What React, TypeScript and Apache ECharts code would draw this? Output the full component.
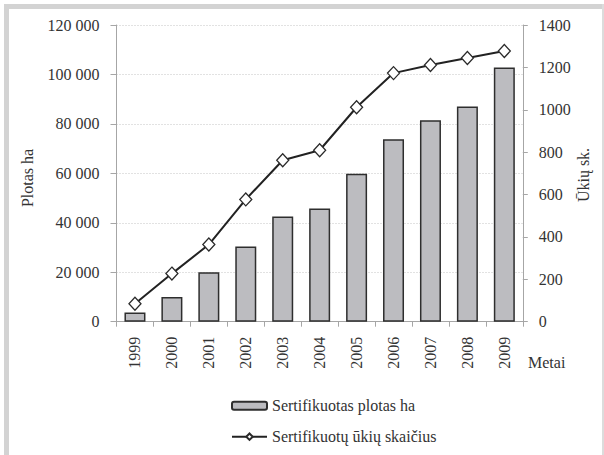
import React, { useEffect, useRef } from "react";
import * as echarts from "echarts";

const years = ["1999", "2000", "2001", "2002", "2003", "2004", "2005", "2006", "2007", "2008", "2009"];
const areaHa = [3700, 10000, 20000, 30400, 42500, 45800, 59800, 73800, 81500, 87000, 102800];
const farms = [85, 227, 364, 577, 762, 809, 1012, 1173, 1211, 1244, 1277];
const barName = "Sertifikuotas plotas ha";
const lineName = "Sertifikuotų ūkių skaičius";

const FONT = "'Liberation Serif', 'Times New Roman', Times, serif";
const TXT = "#333333";
const AXIS = "#a6a6a6";

export default function App() {
  const ref = useRef<HTMLDivElement>(null);
  useEffect(() => {
    if (!ref.current) return;
    const chart = echarts.init(ref.current, undefined, { renderer: "svg" });
    chart.setOption({
      animation: false,
      backgroundColor: "#ffffff",
      textStyle: { fontFamily: FONT, color: TXT },
      grid: { left: 116.5, right: 81.2, top: 25, bottom: 133.3, containLabel: false },
      legend: {
        orient: "vertical",
        left: 231,
        top: 397.7,
        padding: 0,
        itemWidth: 35,
        itemHeight: 8,
        itemGap: 15,
        textStyle: { fontFamily: FONT, fontSize: 16, color: TXT, lineHeight: 16 },
        data: [barName, lineName],
      },
      xAxis: {
        type: "category",
        data: years,
        boundaryGap: true,
        axisLine: { lineStyle: { color: AXIS, width: 1 } },
        axisTick: { show: true, length: 5, lineStyle: { color: AXIS } },
        axisLabel: { rotate: 90, margin: 15, fontSize: 16, color: TXT, fontFamily: FONT },
      },
      yAxis: [
        {
          type: "value",
          min: 0,
          max: 120000,
          interval: 20000,
          position: "left",
          axisLine: { show: true, lineStyle: { color: AXIS } },
          axisTick: { show: true, length: 6, lineStyle: { color: AXIS } },
          axisLabel: {
            margin: 17,
            fontSize: 16,
            color: TXT,
            fontFamily: FONT,
            formatter: (v: number) => String(v).replace(/\B(?=(\d{3})+(?!\d))/g, " "),
          },
          splitLine: { show: true, lineStyle: { color: "#c4c4c4", type: [1, 2], width: 1 } },
        },
        {
          type: "value",
          min: 0,
          max: 1400,
          interval: 200,
          position: "right",
          axisLine: { show: true, lineStyle: { color: AXIS } },
          axisTick: { show: true, length: 5, lineStyle: { color: AXIS } },
          axisLabel: {
            margin: 16,
            fontSize: 16,
            color: TXT,
            fontFamily: FONT,
            formatter: (v: number) => String(v),
          },
          splitLine: { show: false },
        },
      ],
      series: [
        {
          name: barName,
          type: "bar",
          yAxisIndex: 0,
          data: areaHa,
          barWidth: 21,
          itemStyle: { color: "#bcbcc0", borderColor: "#2e2e2e", borderWidth: 1.5 },
          z: 2,
        },
        {
          name: lineName,
          type: "line",
          yAxisIndex: 1,
          data: farms,
          symbol: "diamond",
          symbolSize: [12, 13],
          lineStyle: { color: "#222222", width: 2 },
          itemStyle: { color: "#ffffff", borderColor: "#2a2a2a", borderWidth: 1.3 },
          z: 3,
        },
      ],
      graphic: [
        { type: "rect", shape: { x: 4, y: 4, width: 600, height: 5 }, style: { fill: "#d3d3d3" }, silent: true },
        { type: "rect", shape: { x: 4, y: 4, width: 5, height: 451 }, style: { fill: "#d3d3d3" }, silent: true },
        { type: "rect", shape: { x: 602, y: 4, width: 2, height: 451 }, style: { fill: "#dcdcdc" }, silent: true },
        {
          type: "text",
          x: 528,
          y: 362,
          style: { text: "Metai", fontFamily: FONT, fontSize: 16, fill: TXT, align: "left", verticalAlign: "middle" },
        },
        {
          type: "text",
          x: 27.5,
          y: 178,
          rotation: Math.PI / 2,
          style: { text: "Plotas ha", fontFamily: FONT, fontSize: 16, fill: TXT, align: "center", verticalAlign: "middle" },
        },
        {
          type: "text",
          x: 583,
          y: 175,
          rotation: Math.PI / 2,
          style: { text: "Ūkių sk.", fontFamily: FONT, fontSize: 16, fill: TXT, align: "center", verticalAlign: "middle" },
        },
      ],
    });
    return () => chart.dispose();
  }, []);
  return (
    <div
      ref={ref}
      style={{ position: "absolute", left: 0, top: 0, width: 604, height: 455 }}
    />
  );
}
